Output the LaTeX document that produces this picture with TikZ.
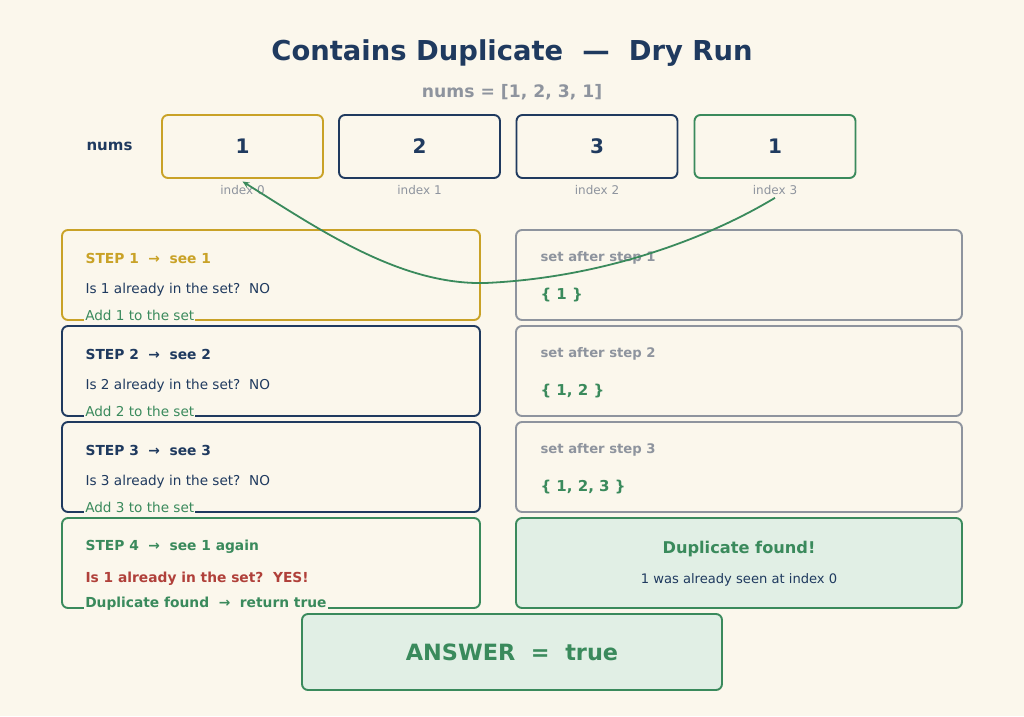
\documentclass[tikz,border=0pt]{standalone}
\usepackage{fontspec}
\setmainfont{DejaVu Sans}
\usetikzlibrary{positioning,calc,arrows.meta}
\definecolor{paper}{HTML}{FBF7EC}
\definecolor{ink}{HTML}{1F3A5F}
\definecolor{gold}{HTML}{C9A227}
\definecolor{leaf}{HTML}{3A8A5C}
\definecolor{mist}{HTML}{8E949E}
\definecolor{alarm}{HTML}{B0403A}
\definecolor{mint}{HTML}{E1EFE5}
\tikzset{
  sketch/.style={draw,line width=1.9pt,rounded corners=6pt},
  numbox/.style={sketch,minimum width=161pt,minimum height=63pt,
    font=\bfseries\fontsize{20}{24}\selectfont,text=ink},
  idxlabel/.style={font=\fontsize{12}{14}\selectfont,text=mist},
  stepbox/.style={sketch,minimum width=418pt,minimum height=90pt},
  setbox/.style={sketch,draw=mist,minimum width=446pt,minimum height=90pt},
  steptitle/.style={anchor=west,font=\bfseries\fontsize{13.8}{16}\selectfont},
  question/.style={anchor=west,font=\fontsize{13.6}{16}\selectfont,text=ink},
  action/.style={anchor=west,font=\fontsize{13.6}{16}\selectfont,text=leaf,
    fill=paper,inner sep=1pt},
  setlabel/.style={anchor=west,font=\bfseries\fontsize{13.2}{16}\selectfont,text=mist},
  setvalue/.style={anchor=west,font=\bfseries\fontsize{15}{18}\selectfont,text=leaf},
  link/.style={draw=leaf,line width=1.8pt,-{Stealth[length=7pt,width=6pt]}},
}
\begin{document}
\begin{tikzpicture}[x=1pt,y=-1pt]
\fill[paper] (0,0) rectangle (1024,716);
\useasboundingbox (0,0) rectangle (1024,716);

% heading
\node[font=\bfseries\fontsize{27.4}{32}\selectfont,text=ink] (title) at (512,53)
  {Contains Duplicate\ \ —\ \ Dry Run};
\node[font=\bfseries\fontsize{17.2}{20}\selectfont,text=mist] (sub) at (512,92)
  {nums = [1, 2, 3, 1]};

% the array
\node[font=\bfseries\fontsize{15}{18}\selectfont,text=ink] (lbl) at (109.5,146.5) {nums};
\node[numbox,draw=gold] (n0) at (242.5,146.5) {1};
\node[numbox,draw=ink]  (n1) at (419.5,146.5) {2};
\node[numbox,draw=ink]  (n2) at (597,146.5) {3};
\node[numbox,draw=leaf] (n3) at (775,146.5) {1};
\foreach \i in {0,...,3}
  \node[idxlabel,below=2.5pt of n\i] (i\i) {index \i};

% steps, left column
\node[stepbox,draw=gold] (s1) at (271,275) {};
\node[stepbox,draw=ink]  (s2) at (271,371) {};
\node[stepbox,draw=ink]  (s3) at (271,467) {};
\node[stepbox,draw=leaf] (s4) at (271,563) {};

\foreach \k/\c in {1/gold,2/ink,3/ink}{
  \node[steptitle,text=\c] (t\k) at ($(s\k.north west)+(21,29)$)
    {STEP \k\ \ →\ \ see \k};
  \node[question] (q\k) at ($(s\k.north west)+(21,61)$)
    {Is \k\ already in the set?\ \ NO};
  \node[action] (a\k) at ($(s\k.north west)+(23,86.5)$) {Add \k\ to the set};
}
\node[steptitle,text=leaf] (t4) at ($(s4.north west)+(21,29.5)$) {STEP 4\ \ →\ \ see 1 again};
\node[steptitle,text=alarm] (q4) at ($(s4.north west)+(21,61.5)$) {Is 1 already in the set?\ \ YES!};
\node[steptitle,text=leaf,fill=paper,inner sep=1pt] (a4) at ($(s4.north west)+(23,87)$)
  {Duplicate found\ \ →\ \ return true};

% the set, right column
\node[setbox] (r1) at (739,275) {};
\node[setbox] (r2) at (739,371) {};
\node[setbox] (r3) at (739,467) {};
\node[setbox,draw=leaf,fill=mint] (r4) at (739,563) {};
\foreach \k/\s in {1/{\{ 1 \}},2/{\{ 1, 2 \}},3/{\{ 1, 2, 3 \}}}{
  \node[setlabel] (l\k) at ($(r\k.north west)+(22,29)$) {set after step \k};
  \node[setvalue] (v\k) at ($(r\k.north west)+(22,66)$) {\s};
}
\node[font=\bfseries\fontsize{16.2}{19}\selectfont,text=leaf] (dup) at ($(r4.north)+(0,32)$)
  {Duplicate found!};
\node[font=\fontsize{13.1}{16}\selectfont,text=ink] (dupnote) at ($(r4.north)+(0,63)$)
  {1 was already seen at index 0};

% answer
\node[sketch,draw=leaf,fill=mint,minimum width=420pt,minimum height=76pt,
  font=\bfseries\fontsize{22.4}{26}\selectfont,text=leaf] (ans) at (512,652)
  {ANSWER\ \ =\ \ true};

% back link: second 1 points at the first one
\draw[link] (i3.south) .. controls (705,240) and (600,278) .. (485,283)
  .. controls (400,285) and (320,230) .. (i0.north);
\end{tikzpicture}
\end{document}
